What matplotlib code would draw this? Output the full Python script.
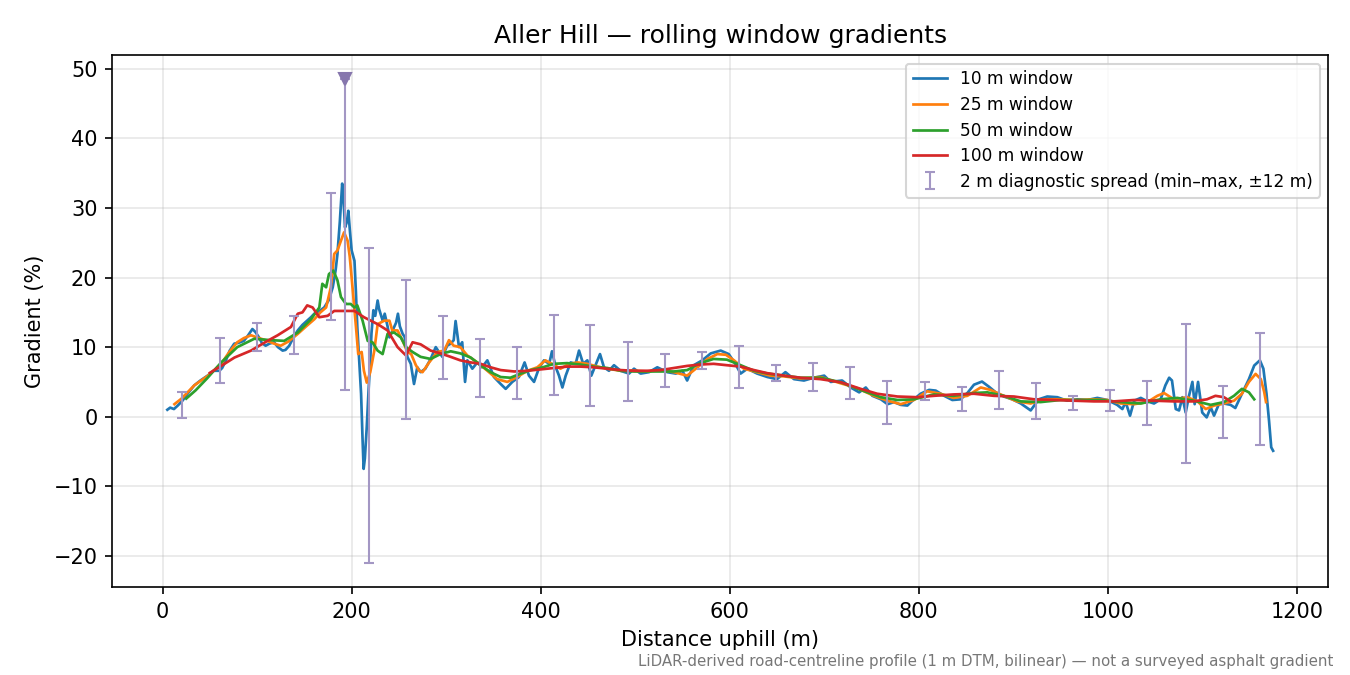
import matplotlib
matplotlib.use("Agg")
import matplotlib.pyplot as plt
import numpy as np

# ---- data ----
dist_10 = [5, 8, 12, 16, 21, 27, 33.5, 40, 47.6, 54, 60, 63, 67, 71, 75.8, 80, 86, 90, 95, 98,
           102, 105, 109, 113, 118, 122, 127, 130, 134, 138, 143, 148, 153, 157, 160.5, 166, 171,
           176, 180, 183, 185, 187.5, 190, 191.5, 193, 195, 196.5, 198, 200, 203, 204.5, 206, 208,
           210, 211.5, 212.7, 214, 216, 218, 219.7, 221, 223, 225, 227.5, 229, 231.7, 233, 235,
           238, 240, 242, 245, 247, 249, 251, 254, 256, 259, 262.6, 266, 269.5, 273, 278, 283.6,
           289, 292.4, 296, 301, 304.8, 308, 310, 313.6, 317, 320, 322.4, 327.7, 333, 338, 343.6,
           350.6, 357.7, 363, 370, 377, 383, 387.6, 393, 398, 403.5, 409, 412, 416, 419.4, 423,
           426.5, 431.7, 437, 440.6, 445, 449.4, 453.6, 458, 462.8, 467, 472.3, 477.6, 484.6,
           493.5, 498.8, 505.8, 514.6, 523.4, 534, 543, 550, 555, 562, 571, 580, 590.5, 599, 606,
           611.6, 618.7, 629, 640, 650, 659, 668, 678.6, 689, 700, 707, 719, 728, 737, 744, 751,
           760, 767, 774, 781, 788, 795, 802, 811, 818, 827, 835.6, 844.4, 851.5, 858.5, 867,
           874.4, 881.5, 890, 899, 908, 918.5, 927, 936, 946.7, 957, 968, 978.5, 989, 999.6, 1010,
           1015.5, 1019, 1023.6, 1028, 1035, 1042, 1049, 1056, 1061, 1065, 1068, 1072, 1075.5,
           1079, 1082.5, 1086, 1089.6, 1092, 1095.6, 1100, 1104.7, 1109, 1112.5, 1117.6, 1123,
           1130, 1135, 1142, 1149.4, 1155, 1161, 1164.7, 1168, 1170.7, 1173, 1175]
grad_10 = [1.0, 1.3, 1.1, 1.6, 2.3, 3.4, 4.5, 5.2, 5.9, 6.6, 6.6, 7.0, 8.1, 9.5, 10.5, 10.6, 10.9,
           11.6, 12.6, 12.2, 11.4, 10.6, 10.2, 10.5, 10.7, 10.0, 9.5, 9.6, 10.2, 11.3, 12.4, 13.2,
           13.8, 14.3, 14.8, 15.2, 15.7, 16.8, 18.6, 21.0, 23.4, 28.0, 33.5, 31.0, 27.2, 28.0, 29.6,
           27.0, 23.9, 22.4, 18.0, 12.9, 8.0, 3.3, -3.0, -7.5, -6.0, -1.5, 4.0, 8.1, 12.0, 15.3,
           14.5, 16.7, 15.5, 14.3, 13.8, 14.8, 13.0, 11.4, 12.0, 12.9, 13.5, 14.8, 13.0, 11.9,
           11.5, 8.6, 7.6, 4.7, 7.1, 6.4, 6.9, 8.3, 10.0, 9.3, 8.6, 10.2, 10.5, 11.0, 13.75, 10.0,
           10.7, 5.0, 8.1, 6.9, 7.8, 7.1, 8.1, 5.7, 4.7, 4.0, 5.0, 5.7, 7.8, 5.9, 5.0, 6.9, 8.1,
           7.6, 9.4, 7.1, 5.9, 4.2, 5.9, 7.8, 7.6, 9.5, 7.6, 8.1, 5.9, 7.4, 9.0, 7.1, 6.6, 7.4,
           6.6, 6.2, 6.9, 6.2, 6.4, 7.1, 6.4, 6.2, 6.6, 5.2, 7.4, 8.1, 9.1, 9.5, 9.0, 7.6, 6.2,
           6.9, 6.2, 5.7, 5.4, 6.4, 5.4, 5.2, 5.6, 5.9, 5.0, 5.2, 4.2, 3.5, 4.2, 3.0, 2.5, 1.8,
           2.1, 1.7, 1.6, 2.5, 3.3, 3.85, 3.75, 3.0, 2.4, 2.5, 3.4, 4.6, 5.05, 4.3, 3.5, 2.9, 2.5,
           1.9, 0.9, 2.5, 2.9, 2.8, 2.3, 2.5, 2.4, 2.7, 2.4, 1.7, 1.1, 2.1, 0.15, 2.3, 2.7, 2.2,
           1.9, 2.5, 4.5, 5.6, 5.2, 1.1, 0.9, 2.8, 0.6, 3.0, 5.0, 1.8, 5.0, 0.6, -0.1, 1.35, 0.15,
           1.8, 1.9, 1.7, 1.25, 3.3, 5.4, 7.35, 8.1, 6.9, 3.3, -0.6, -4.4, -4.9]

dist_25 = [12.5, 20, 33.5, 48, 62, 70, 79, 86, 93.5, 102, 111, 118, 125, 133, 143, 152, 160.5, 167,
           173, 178, 181.6, 185, 188.7, 192, 195.7, 198, 200, 204.6, 207, 210.6, 213, 216, 219.7,
           224, 227.5, 234.5, 240, 243, 248.6, 254, 259, 263, 268, 271.6, 275, 282, 290.7, 298,
           303, 308, 315, 322.4, 333, 343.6, 354, 364.7, 375, 386, 396.5, 405, 412, 421, 430, 439,
           449.4, 460, 470.5, 484.6, 498.8, 513, 527, 541, 555, 566, 576.6, 587, 596, 604.6, 615,
           629, 643, 657, 675, 696, 717.5, 735, 752.7, 767, 781, 795, 809, 823, 837, 851.5, 865.6,
           876, 890, 904, 918.5, 932.6, 950, 968, 985.5, 999.6, 1013.7, 1028, 1042, 1052.5,
           1059.6, 1070, 1084, 1095, 1103.7, 1112.5, 1123, 1133.6, 1142, 1149.4, 1156.5, 1162,
           1165.5, 1167.5]
grad_25 = [1.8, 2.6, 4.5, 5.9, 7.6, 9.2, 10.7, 11.3, 11.7, 11.3, 10.9, 10.5, 10.2, 10.8, 11.9, 13.0,
           14.0, 15.0, 15.7, 18.6, 23.4, 23.9, 25.3, 26.5, 25.3, 23.0, 20.0, 12.9, 9.0, 9.3, 6.6,
           4.9, 6.4, 9.5, 13.3, 13.8, 13.8, 12.4, 12.4, 10.9, 9.3, 9.0, 7.4, 6.6, 6.4, 7.8, 9.3,
           9.5, 11.0, 10.2, 10.0, 8.8, 7.8, 6.6, 5.4, 5.0, 5.7, 6.6, 7.1, 8.1, 7.6, 6.9, 7.6, 7.8,
           7.6, 7.2, 6.9, 6.6, 6.6, 6.5, 6.7, 6.4, 5.9, 7.1, 8.3, 9.0, 8.9, 8.1, 6.9, 6.4, 5.9,
           5.8, 5.5, 5.7, 4.8, 4.1, 3.0, 2.3, 1.8, 2.4, 3.65, 3.3, 2.7, 3.0, 4.2, 3.85, 3.0, 2.2,
           1.9, 2.5, 2.5, 2.4, 2.5, 2.4, 1.9, 1.8, 2.1, 3.0, 3.4, 2.5, 2.8, 2.2, 1.1, 1.6, 1.9,
           2.3, 3.3, 5.0, 6.15, 5.4, 3.6, 2.1]

dist_50 = [25, 35, 47, 62, 79, 97, 114.6, 128.7, 143, 157, 165.8, 169, 173, 176, 180.6, 185, 188.7,
           194, 199, 203, 206, 211.6, 217, 222, 227.5, 232.8, 238, 245, 252, 257.5, 264.5, 273,
           283.6, 294, 304.8, 315, 326, 336.5, 347, 357.7, 368, 379, 389.4, 400, 414, 428, 442,
           456, 470.5, 484.6, 498.8, 513, 527, 541, 555, 569, 583, 597, 611.6, 625.7, 640, 657.5,
           675, 696, 717.5, 738.6, 760, 777.5, 795, 816, 837, 858.5, 872.6, 890, 908, 929, 950,
           971.4, 992.6, 1013.7, 1035, 1056, 1073.7, 1091, 1109, 1123, 1133.6, 1142, 1149.4, 1155]
grad_50 = [2.6, 3.8, 5.5, 7.8, 10.0, 11.2, 11.0, 10.9, 12.1, 14.0, 15.7, 19.1, 18.6, 20.5, 21.0,
           19.6, 17.2, 16.2, 16.2, 15.7, 16.0, 13.8, 10.9, 10.7, 9.5, 9.0, 11.9, 12.1, 11.4, 10.0,
           9.3, 8.6, 8.3, 9.0, 9.4, 9.1, 8.5, 7.4, 6.4, 5.7, 5.6, 6.2, 6.7, 7.0, 7.6, 7.7, 7.5,
           7.2, 7.0, 6.6, 6.5, 6.5, 6.5, 6.5, 6.7, 7.7, 8.3, 8.2, 7.4, 6.6, 6.2, 5.9, 5.6, 5.6,
           4.95, 3.85, 2.8, 2.4, 2.5, 3.2, 3.0, 3.4, 3.5, 3.0, 2.2, 2.1, 2.4, 2.4, 2.4, 2.1, 1.9,
           2.5, 2.7, 2.3, 1.7, 2.1, 3.0, 4.0, 3.5, 2.5]

dist_100 = [50, 62, 76, 93.5, 111, 121.7, 135.8, 143, 148, 153, 158.7, 165.8, 174.6, 181.6, 192, 203,
            213, 227.5, 238, 248.6, 257.5, 264.5, 273, 283.6, 294, 304.8, 315, 326, 336.5, 347,
            357.7, 372, 386, 400, 414, 428, 442, 456, 470.5, 484.6, 498.8, 513, 527, 541, 555,
            569, 583, 597, 611.6, 625.7, 640, 657.5, 675, 696, 717.5, 738.6, 756, 777.5, 798.6,
            816, 837, 858.5, 879.6, 900.8, 922, 943, 964, 985.5, 1006.7, 1028, 1049, 1070, 1091,
            1105, 1114, 1123, 1130]
grad_100 = [6.3, 7.3, 8.5, 9.5, 10.9, 11.7, 12.9, 14.8, 15.0, 16.0, 15.7, 14.3, 14.5, 15.2, 15.2,
            15.2, 14.3, 13.3, 12.4, 10.0, 8.8, 10.7, 10.4, 9.5, 9.1, 8.6, 8.1, 7.8, 7.6, 7.1, 6.7,
            6.5, 6.6, 6.8, 7.0, 7.2, 7.2, 7.1, 6.9, 6.7, 6.6, 6.6, 6.7, 7.0, 7.3, 7.5, 7.6, 7.4,
            7.2, 6.7, 6.25, 5.9, 5.6, 5.4, 4.95, 4.0, 3.3, 2.9, 2.8, 3.0, 3.2, 3.3, 3.0, 2.9, 2.5,
            2.4, 2.3, 2.2, 2.2, 2.4, 2.3, 2.2, 2.2, 2.5, 3.0, 2.8, 2.2]

spread_x = [21, 60.3, 99.5, 138.6, 177.8, 193, 218, 257.5, 296.3, 335.5, 374.6, 413.8, 452.6,
            492.8, 532, 571, 610, 649.4, 688.5, 727.7, 766.8, 807, 846, 885, 924.5, 963.7,
            1002.8, 1042, 1082.5, 1121.7, 1161]
spread_lo = [-0.24, 4.9, 9.4, 9.0, 13.9, 3.9, -21.0, -0.4, 5.4, 2.9, 2.5, 3.1, 1.6, 2.3, 4.2, 6.8,
             4.1, 5.2, 3.75, 2.5, -1.0, 2.35, 0.8, 1.06, -0.4, 0.9, 0.8, -1.25, -6.7, -3.0, -4.0]
spread_hi = [3.6, 11.3, 13.5, 14.5, 32.1, 48.5, 24.3, 19.7, 14.5, 11.1, 10.0, 14.6, 13.2, 10.7,
             9.0, 9.3, 10.1, 7.4, 7.7, 7.2, 5.1, 4.95, 4.2, 6.5, 4.8, 3.0, 3.9, 5.2, 13.3, 4.4, 12.1]

clip_x = [193]
clip_y = [48.5]

# ---- figure ----
fig = plt.figure(figsize=(9, 4.5), dpi=150)
ax = fig.add_axes([0.083, 0.1304, 0.901, 0.788])

ax.plot(dist_10, grad_10, color="#1f77b4", lw=1.3, label="10 m window")
ax.plot(dist_25, grad_25, color="#ff7f0e", lw=1.3, label="25 m window")
ax.plot(dist_50, grad_50, color="#2ca02c", lw=1.3, label="50 m window")
ax.plot(dist_100, grad_100, color="#d62728", lw=1.3, label="100 m window")

lo = np.array(spread_lo)
hi = np.array(spread_hi)
mid = (lo + hi) / 2
ax.errorbar(spread_x, mid, yerr=[mid - lo, hi - mid], fmt="none", ecolor="#a397c4",
            elinewidth=1.0, capsize=2.5, capthick=1.0,
            label="2 m diagnostic spread (min\u2013max, \u00b112 m)")
ax.plot(clip_x, clip_y, linestyle="none", marker="v", markersize=6, color="#8676ad")

ax.set_title("Aller Hill \u2014 rolling window gradients", fontsize=12)
ax.set_xlabel("Distance uphill (m)", fontsize=10)
ax.set_ylabel("Gradient (%)", fontsize=10)
ax.grid(True, alpha=0.3)
ax.legend(loc="upper right", fontsize=8.15, labelspacing=0.45)

fig.text(0.988, 0.0133,
         "LiDAR-derived road-centreline profile (1 m DTM, bilinear) \u2014 not a surveyed asphalt gradient",
         ha="right", va="baseline", fontsize=7.2, color="#777777")

fig.savefig("out.png", dpi=150)
